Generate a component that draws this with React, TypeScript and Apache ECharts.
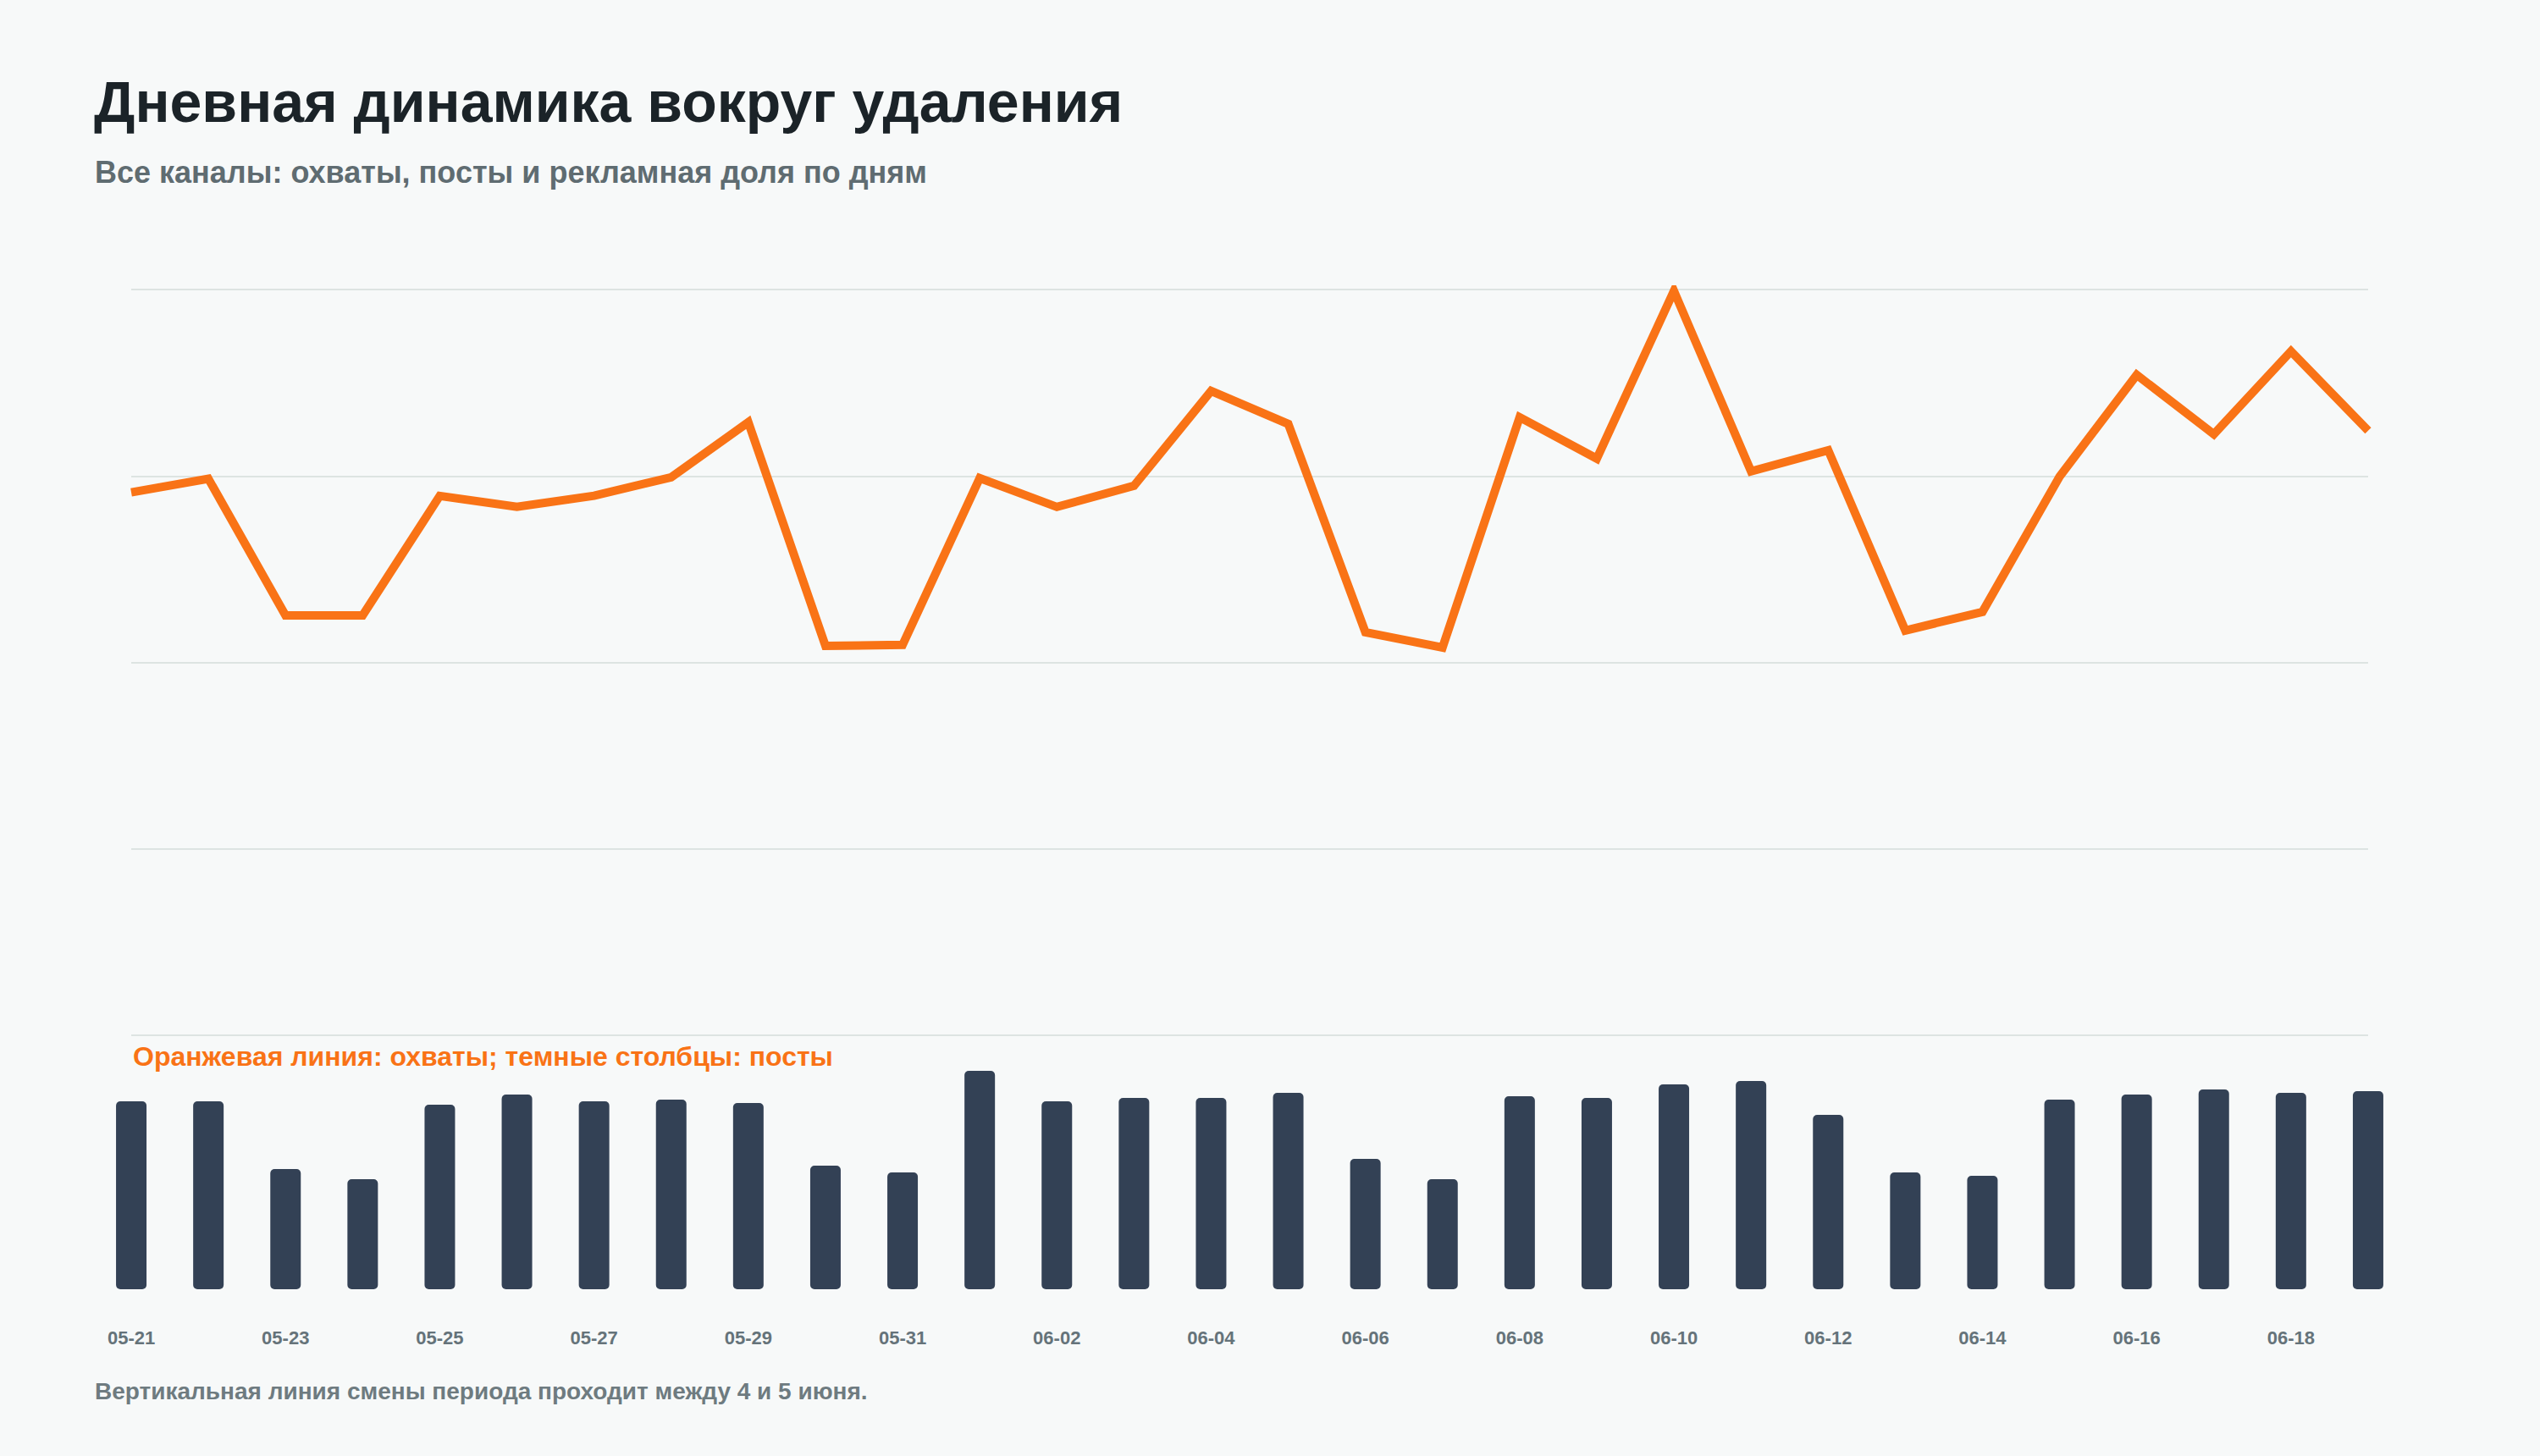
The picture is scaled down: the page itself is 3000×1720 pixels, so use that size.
import React, { useEffect, useRef } from "react";
import * as echarts from "echarts";

const dates = [
  "05-21", "05-22", "05-23", "05-24", "05-25", "05-26", "05-27", "05-28", "05-29", "05-30",
  "05-31", "06-01", "06-02", "06-03", "06-04", "06-05", "06-06", "06-07", "06-08", "06-09",
  "06-10", "06-11", "06-12", "06-13", "06-14", "06-15", "06-16", "06-17", "06-18", "06-19",
];

const reach = [
  29120, 29850, 22520, 22520, 28930, 28340, 28940, 29930, 32880, 20890,
  20940, 29880, 28340, 29470, 34560, 32790, 21620, 20800, 33150, 30930,
  39920, 30250, 31380, 21710, 22710, 29970, 35420, 32240, 36690, 32430,
];

const posts = [
  111, 111, 71, 65, 109, 115, 111, 112, 110, 73,
  69, 129, 111, 113, 113, 116, 77, 65, 114, 113,
  121, 123, 103, 69, 67, 112, 115, 118, 116, 117,
];

const TITLE = "Дневная динамика вокруг удаления";
const SUBTITLE = "Все каналы: охваты, посты и рекламная доля по дням";
const LEGEND_NOTE = "Оранжевая линия: охваты; темные столбцы: посты";
const FOOTER = "Вертикальная линия смены периода проходит между 4 и 5 июня.";

const FONT = '"Liberation Sans", Arial, Helvetica, sans-serif';
const BG = "#f7f9f9";
const ORANGE = "#f97316";
const SLATE = "#334155";
const GRID_LINE = "#dde4e2";

export default function App() {
  const ref = useRef<HTMLDivElement>(null);

  useEffect(() => {
    if (!ref.current) return;
    const chart = echarts.init(ref.current, null, { renderer: "svg" });
    chart.setOption({
      animation: false,
      backgroundColor: BG,
      textStyle: { fontFamily: FONT },
      grid: [
        { left: 155, right: 203, top: 342, bottom: 497, containLabel: false },
        { left: 109.5, right: 157.5, top: 1263, bottom: 197, containLabel: false },
      ],
      xAxis: [
        {
          type: "category",
          gridIndex: 0,
          data: dates,
          boundaryGap: false,
          axisLine: { show: false },
          axisTick: { show: false },
          axisLabel: { show: false },
          splitLine: { show: false },
        },
        {
          type: "category",
          gridIndex: 1,
          data: dates,
          boundaryGap: true,
          axisLine: { show: false },
          axisTick: { show: false },
          splitLine: { show: false },
          axisLabel: {
            interval: 1,
            margin: 46,
            fontSize: 22,
            fontWeight: "bold",
            color: "#65737a",
            fontFamily: FONT,
          },
        },
      ],
      yAxis: [
        {
          type: "value",
          gridIndex: 0,
          min: 0,
          max: 40000,
          interval: 10000,
          axisLine: { show: false },
          axisTick: { show: false },
          axisLabel: { show: false },
          splitLine: { show: true, lineStyle: { color: GRID_LINE, width: 2 } },
        },
        {
          type: "value",
          gridIndex: 1,
          min: 0,
          max: 130,
          show: false,
          splitLine: { show: false },
        },
      ],
      series: [
        {
          type: "line",
          xAxisIndex: 0,
          yAxisIndex: 0,
          data: reach,
          symbol: "none",
          smooth: false,
          lineStyle: { color: ORANGE, width: 10, join: "miter" },
          itemStyle: { color: ORANGE },
          z: 3,
        },
        {
          type: "bar",
          xAxisIndex: 1,
          yAxisIndex: 1,
          data: posts,
          barWidth: 36,
          itemStyle: { color: SLATE, borderRadius: 5 },
        },
      ],
      graphic: [
        {
          type: "text",
          left: 111,
          top: 86,
          style: {
            text: TITLE,
            font: `bold 68px ${FONT}`,
            fill: "#1b2328",
          },
        },
        {
          type: "text",
          left: 112,
          top: 185,
          style: {
            text: SUBTITLE,
            font: `bold 36px ${FONT}`,
            fill: "#5f6c71",
          },
        },
        {
          type: "text",
          left: 157,
          top: 1232,
          style: {
            text: LEGEND_NOTE,
            font: `bold 32px ${FONT}`,
            fill: ORANGE,
          },
        },
        {
          type: "text",
          left: 112,
          top: 1629,
          style: {
            text: FOOTER,
            font: `bold 28px ${FONT}`,
            fill: "#6e7b80",
          },
        },
      ],
    });
    return () => chart.dispose();
  }, []);

  return (
    <div
      ref={ref}
      style={{ position: "fixed", left: 0, top: 0, width: 3000, height: 1720, background: BG }}
    />
  );
}
